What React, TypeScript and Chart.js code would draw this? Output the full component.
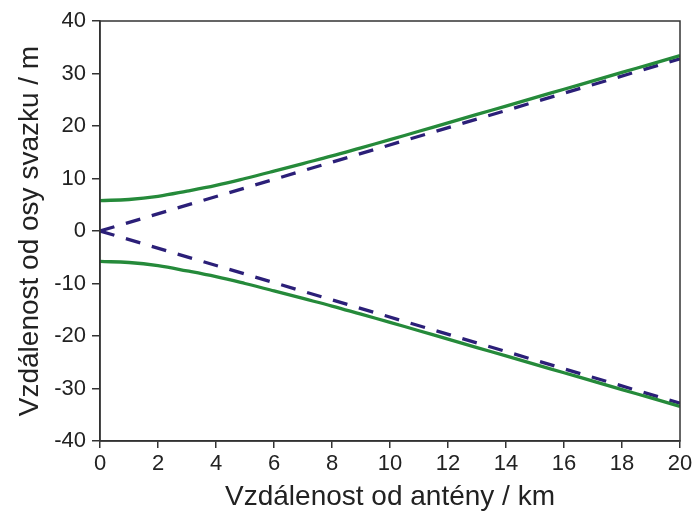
import React, { useEffect, useRef } from "react";
import { Chart, registerables } from "chart.js";

Chart.register(...registerables);

const distanceKm = [0, 1, 2, 3, 4, 5, 6, 7, 8, 9, 10, 11, 12, 13, 14, 15, 16, 17, 18, 19, 20];
const beamUpper = [5.8, 6.0, 6.6, 7.6, 8.7, 10.0, 11.4, 12.85, 14.3, 15.85, 17.4, 19.0, 20.6, 22.2, 23.8, 25.4, 27.0, 28.6, 30.2, 31.8, 33.4];
const beamLower = [-5.8, -6.0, -6.6, -7.6, -8.7, -10.0, -11.4, -12.85, -14.3, -15.85, -17.4, -19.0, -20.6, -22.2, -23.8, -25.4, -27.0, -28.6, -30.2, -31.8, -33.4];
const asymptoteKm = [0, 20];
const asymptoteUpper = [0, 32.8];
const asymptoteLower = [0, -32.8];

const xTitle = "Vzdálenost od antény / km";
const yTitle = "Vzdálenost od osy svazku / m";

const FONT = "'Liberation Sans', Arial, sans-serif";
const GREEN = "#258a3a";
const NAVY = "#2b1f78";
const AXIS = "#333333";

const frame = {
  id: "frame",
  afterDraw(chart: any) {
    const { ctx, chartArea } = chart;
    ctx.save();
    ctx.strokeStyle = AXIS;
    ctx.lineWidth = 1.5;
    ctx.strokeRect(chartArea.left, chartArea.top, chartArea.right - chartArea.left, chartArea.bottom - chartArea.top);
    ctx.restore();
  },
};

export default function App() {
  const ref = useRef<HTMLCanvasElement>(null);
  useEffect(() => {
    document.body.style.margin = "0";
    const pts = (xs: number[], ys: number[]) => xs.map((x, i) => ({ x, y: ys[i] }));
    const chart = new Chart(ref.current!, {
      type: "line",
      data: {
        datasets: [
          { data: pts(distanceKm, beamUpper), borderColor: GREEN, borderWidth: 3.3, pointRadius: 0, tension: 0.4, order: 0 },
          { data: pts(distanceKm, beamLower), borderColor: GREEN, borderWidth: 3.3, pointRadius: 0, tension: 0.4, order: 0 },
          { data: pts(asymptoteKm, asymptoteUpper), borderColor: NAVY, borderWidth: 3.3, borderDash: [15, 12], pointRadius: 0, order: 1 },
          { data: pts(asymptoteKm, asymptoteLower), borderColor: NAVY, borderWidth: 3.3, borderDash: [15, 12], pointRadius: 0, order: 1 },
        ],
      } as any,
      options: {
        animation: false,
        responsive: false,
        layout: { padding: { top: 21, right: 16, left: 0, bottom: 0 } },
        plugins: { legend: { display: false }, tooltip: { enabled: false } },
        scales: {
          x: {
            type: "linear",
            min: 0,
            max: 20,
            afterFit: (s: any) => { s.height = 73; },
            ticks: { stepSize: 2, font: { family: FONT, size: 22 }, color: "#222", padding: 3, maxRotation: 0 },
            grid: { drawOnChartArea: false, tickLength: 7, color: AXIS, lineWidth: 1.5 },
            border: { color: AXIS, width: 1.5 },
            title: { display: true, text: xTitle, font: { family: FONT, size: 28 }, color: "#222", padding: { top: 0, bottom: 0 } },
          },
          y: {
            min: -40,
            max: 40,
            afterFit: (s: any) => { s.width = 100; },
            ticks: { stepSize: 10, font: { family: FONT, size: 22 }, color: "#222", padding: 6 },
            grid: { drawOnChartArea: false, tickLength: 8, color: AXIS, lineWidth: 1.5 },
            border: { color: AXIS, width: 1.5 },
            title: { display: true, text: yTitle, font: { family: FONT, size: 28 }, color: "#222", padding: { top: 13, bottom: 0 } },
          },
        },
      } as any,
      plugins: [frame],
    });
    return () => chart.destroy();
  }, []);
  return <canvas ref={ref} width={696} height={514} style={{ display: "block" }} />;
}
